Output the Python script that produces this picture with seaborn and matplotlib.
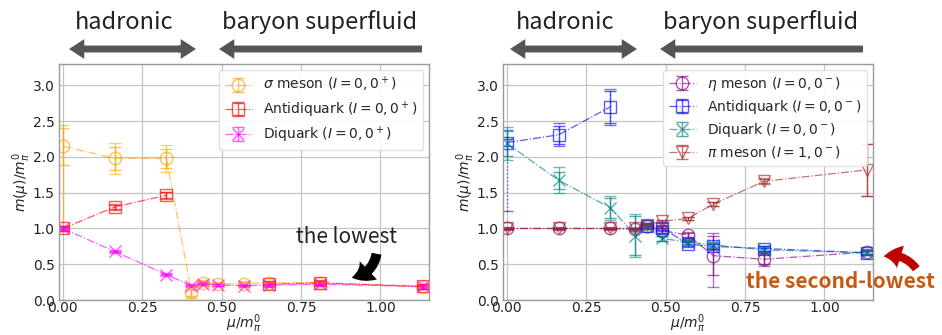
import numpy as np
import seaborn as sns
import matplotlib
matplotlib.use("Agg")
import matplotlib.pyplot as plt
from matplotlib.patches import FancyArrowPatch

# chemical potential mu / m_pi^0
mu = [0.0, 0.163, 0.326, 0.405, 0.44, 0.49, 0.57, 0.65, 0.81, 1.135]
nan = np.nan

# left panel: 0+ channels
sigma_m = [2.15, 1.98, 1.98, 0.11, 0.24, 0.22, 0.23, 0.24, 0.24, 0.18]
sigma_stat = [0.26, 0.16, 0.13, 0.05, 0.03, 0.02, 0.02, 0.02, 0.02, 0.02]
sigma_sys_lo = [1.15, 0.22, 0.19, 0.08, 0.04, 0.03, 0.03, 0.03, 0.03, 0.03]
sigma_sys_hi = [0.30, 0.22, 0.19, 0.08, 0.04, 0.03, 0.03, 0.03, 0.03, 0.03]

adq0_m = [1.0, 1.30, 1.465, nan, nan, nan, nan, 0.22, 0.24, 0.19]
adq0_stat = [0.03, 0.03, 0.04, nan, nan, nan, nan, 0.03, 0.03, 0.03]
adq0_sys = [0.04, 0.04, 0.05, nan, nan, nan, nan, 0.04, 0.04, 0.04]

dq0_m = [1.0, 0.68, 0.355, 0.20, 0.23, 0.21, 0.20, 0.21, 0.22, 0.19]
dq0_stat = [0.01, 0.01, 0.01, 0.01, 0.01, 0.01, 0.01, 0.01, 0.01, 0.01]
dq0_sys = [0.02, 0.02, 0.02, 0.02, 0.02, 0.02, 0.02, 0.02, 0.02, 0.02]

# right panel: 0- channels
eta_m = [1.0, 1.0, 1.0, 0.99, 1.03, 0.97, 0.91, 0.62, 0.57, 0.67]
eta_stat = [0.01, 0.01, 0.01, 0.01, 0.02, 0.03, 0.03, 0.27, 0.07, 0.03]
eta_sys_lo = [0.02, 0.02, 0.02, 0.02, 0.03, 0.04, 0.04, 0.44, 0.10, 0.04]
eta_sys_hi = [0.02, 0.02, 0.02, 0.02, 0.03, 0.04, 0.04, 0.32, 0.10, 0.04]

adq1_m = [2.20, 2.31, 2.70, nan, 1.03, 1.01, 0.78, 0.75, 0.72, 0.66]
adq1_stat = [0.05, 0.13, 0.22, nan, 0.03, 0.03, 0.03, 0.03, 0.03, 0.02]
adq1_sys_lo = [0.95, 0.16, 0.25, nan, 0.04, 0.04, 0.04, 0.04, 0.04, 0.03]
adq1_sys_hi = [0.18, 0.16, 0.25, nan, 0.04, 0.04, 0.04, 0.04, 0.04, 0.03]

dq1_m = [2.19, 1.675, 1.29, 0.90, 1.03, 0.86, 0.81, 0.77, 0.70, 0.66]
dq1_stat = [0.18, 0.12, 0.14, 0.27, 0.03, 0.03, 0.03, 0.03, 0.03, 0.02]
dq1_sys = [0.23, 0.18, 0.17, 0.30, 0.04, 0.04, 0.04, 0.04, 0.04, 0.03]

pi_m = [1.0, 1.0, 1.0, 1.0, 1.05, 1.10, 1.14, 1.34, 1.66, 1.82]
pi_stat = [0.01, 0.01, 0.01, 0.01, 0.02, 0.02, 0.02, 0.03, 0.03, 0.36]
pi_sys = [0.01, 0.01, 0.01, 0.01, 0.02, 0.02, 0.02, 0.03, 0.04, 0.36]

left_series = [
    (r"$\sigma$ meson $(I=0,0^+)$", sigma_m, sigma_stat, sigma_sys_lo, sigma_sys_hi, "orange", "o", "-"),
    (r"Antidiquark $(I=0,0^+)$", adq0_m, adq0_stat, adq0_sys, adq0_sys, "red", "s", "-"),
    (r"Diquark $(I=0,0^+)$", dq0_m, dq0_stat, dq0_sys, dq0_sys, "magenta", "x", "-"),
]
right_series = [
    (r"$\eta$ meson $(I=0,0^-)$", eta_m, eta_stat, eta_sys_lo, eta_sys_hi, "purple", "o", "-"),
    (r"Antidiquark $(I=0,0^-)$", adq1_m, adq1_stat, adq1_sys_lo, adq1_sys_hi, "blue", "s", ":"),
    (r"Diquark $(I=0,0^-)$", dq1_m, dq1_stat, dq1_sys, dq1_sys, "teal", "x", "-"),
    (r"$\pi$ meson $(I=1,0^-)$", pi_m, pi_stat, pi_sys, pi_sys, "brown", "v", "-"),
]

sns.set_theme(style="whitegrid", rc={
    "grid.color": "#c4c4c4", "grid.linewidth": 0.9,
    "axes.edgecolor": "#9a9a9a", "axes.linewidth": 1.0,
    "xtick.color": "#222222", "ytick.color": "#222222",
    "xtick.major.size": 0, "ytick.major.size": 0,
})
plt.rcParams["font.family"] = ["DejaVu Sans"]

fig = plt.figure(figsize=(9.42, 3.35), dpi=100)
W, H = 942, 335


def fpos(px, py):
    return (px / W, 1 - py / H)


ax_l = fig.add_axes([59 / W, 35 / H, 370 / W, 236 / H])
ax_r = fig.add_axes([503 / W, 35 / H, 370 / W, 236 / H])

for ax, series in [(ax_l, left_series), (ax_r, right_series)]:
    for label, m, stat, lo, hi, col, mk, els in series:
        ax.errorbar(mu, m, yerr=stat, fmt=mk + "-.", color=col, alpha=0.65,
                    mfc="none", ms=9, lw=0.9, elinewidth=1.0, capsize=4,
                    label=label)
        eb = ax.errorbar(mu, m, yerr=[lo, hi], fmt="none", ecolor=col, alpha=0.55,
                         elinewidth=1.0, capsize=4)
        eb[2][0].set_linestyle(els)
    ax.set_xlim(-0.012, 1.153)
    ax.set_ylim(0, 3.3)
    ax.set_xticks([0.0, 0.25, 0.5, 0.75, 1.0])
    ax.set_xticklabels(["0.00", "0.25", "0.50", "0.75", "1.00"])
    ax.set_yticks([0.0, 0.5, 1.0, 1.5, 2.0, 2.5, 3.0])
    ax.tick_params(axis="x", labelsize=10, pad=1)
    ax.tick_params(axis="y", labelsize=10, pad=3)
    ax.set_xlabel(r"$\mu/m_\pi^0$", fontsize=10, labelpad=-2, color="#222222")
    ax.set_ylabel(r"$m(\mu)/m_\pi^0$", fontsize=10, labelpad=0, color="#222222")
    leg = ax.legend(loc="upper right", fontsize=10, frameon=True, framealpha=0.9,
                    borderaxespad=0.4, handlelength=2.0, labelspacing=0.35)
    leg.get_frame().set_edgecolor("#dddddd")

# phase labels and arrows above each panel
head_font = ["Noto Sans CJK JP", "DejaVu Sans"]
arr_kw = dict(arrowstyle="simple,head_length=1.0,head_width=1.3,tail_width=0.45",
              mutation_scale=11, color="#555555", lw=0, shrinkA=0, shrinkB=0,
              transform=fig.transFigure)
for dx in [0, 441]:
    fig.text(*fpos(124 + dx, 29), "hadronic", ha="center", va="baseline",
             fontsize=17, family=head_font, color="#222222")
    fig.text(*fpos(320 + dx, 29), "baryon superfluid", ha="center", va="baseline",
             fontsize=17, family=head_font, color="#222222")
    # double-headed arrow: long left arrow + short right head
    fig.patches.append(FancyArrowPatch(fpos(183 + dx, 49), fpos(69 + dx, 49), **arr_kw))
    fig.patches.append(FancyArrowPatch(fpos(178 + dx, 49), fpos(196 + dx, 49), **arr_kw))
    fig.patches.append(FancyArrowPatch(fpos(422 + dx, 49), fpos(219 + dx, 49), **arr_kw))

# annotations
fig.text(*fpos(346, 243), "the lowest", ha="center", va="baseline",
         fontsize=15, family=head_font, color="#222222")
fig.patches.append(FancyArrowPatch(
    fpos(377, 251), fpos(349, 278), connectionstyle="arc3,rad=-0.4",
    arrowstyle="simple,head_length=1.0,head_width=1.4,tail_width=0.55",
    mutation_scale=13, color="black", lw=0, transform=fig.transFigure))

fig.text(*fpos(840, 288), "the second-lowest", ha="center", va="baseline",
         fontsize=15, fontweight="bold", family=head_font, color="#c55a11")
fig.patches.append(FancyArrowPatch(
    fpos(918, 271), fpos(881, 257), connectionstyle="arc3,rad=0.35",
    arrowstyle="simple,head_length=1.0,head_width=1.4,tail_width=0.5",
    mutation_scale=12, color="#c00000", lw=0, transform=fig.transFigure))

fig.savefig("out.png", dpi=100)
